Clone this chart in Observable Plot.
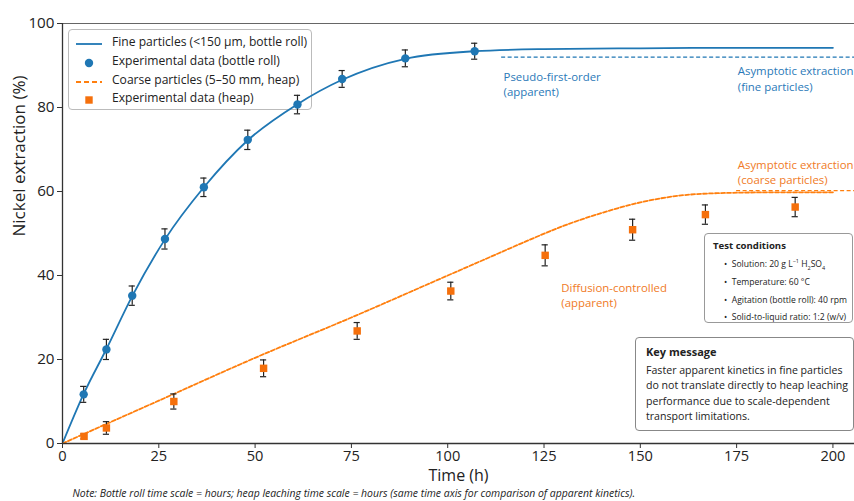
<!DOCTYPE html>
<html>
<head>
<meta charset="utf-8">
<script src="https://cdn.jsdelivr.net/npm/d3@7"></script>
<script src="https://cdn.jsdelivr.net/npm/@observablehq/plot@0.6"></script>
<style>
  html, body { margin: 0; padding: 0; background: #fff; }
  #wrap { position: relative; width: 854px; height: 501px; overflow: hidden; font-family: "Open Sans", "Noto Sans", sans-serif; color: #222; background: #fff; }
  #chart { position: absolute; left: 0; top: 0; z-index: 2; }
  .box { position: absolute; background: #fff; border: 1px solid #aaa; border-radius: 4px; box-sizing: border-box; }
  .legend-row { position: absolute; left: 6px; font-size: 12.1px; white-space: nowrap; line-height: 1; }
  .legend-row svg { position: absolute; left: 0; top: -6px; }
  .legend-row span { position: absolute; left: 37px; top: -8px; }
  .tc { font-size: 8.6px; line-height: 1; white-space: nowrap; }
  .km { font-size: 10.6px; white-space: nowrap; }
</style>
</head>
<body>
<div id="wrap">
  <div id="chart"></div>
</div>
<script>
// ---- data ----
const xTicks = [0, 25, 50, 75, 100, 125, 150, 175, 200];
const yTicks = [0, 20, 40, 60, 80, 100];

// Fine particles, bottle roll (experimental)
const fineTime = [5.5, 11.4, 18.1, 26.6, 36.7, 48.1, 61.0, 72.6, 89.0, 107.0];
const fineExt  = [11.7, 22.4, 35.2, 48.7, 61.0, 72.3, 80.7, 86.8, 91.7, 93.4];
const fineErr  = [1.9, 2.4, 2.3, 2.4, 2.2, 2.3, 2.2, 2.0, 2.0, 1.9];

// Coarse particles, heap (experimental)
const coarseTime = [5.6, 11.4, 28.9, 52.2, 76.5, 100.8, 125.3, 148.0, 166.9, 190.2];
const coarseExt  = [1.7, 3.7, 10.0, 17.9, 26.8, 36.3, 44.8, 50.9, 54.5, 56.3];
const coarseErr  = [0.6, 1.5, 1.8, 2.0, 2.0, 2.1, 2.5, 2.5, 2.3, 2.3];

// Fitted curves
const fineCurveTime = [0, 5.5, 11.4, 18.1, 26.6, 36.7, 48.1, 61, 72.6, 89, 107, 125, 150, 175, 200];
const fineCurveExt  = [0, 11.8, 22.5, 35.1, 48.6, 61.0, 72.2, 80.8, 86.6, 91.6, 93.4, 93.9, 94.1, 94.2, 94.2];
const coarseCurveTime = [0, 25, 50, 75, 100, 110, 120, 130, 140, 150, 160, 170, 185, 200];
const coarseCurveExt  = [0, 10.2, 20.4, 30.0, 40.0, 44.0, 48.0, 51.8, 54.9, 57.4, 59.0, 59.6, 59.8, 59.8];

// Asymptote reference lines
const asymFine = {from: 114, to: 206, value: 92.0};
const asymCoarse = {from: 175, to: 206, value: 60.2};

// Annotation labels
const annotations = [
  {t: 114.5, e: 85.7, text: "Pseudo-first-order\n(apparent)", color: "#2a79b8"},
  {t: 175.3, e: 87.0, text: "Asymptotic extraction\n(fine particles)", color: "#2a79b8"},
  {t: 175.3, e: 64.8, text: "Asymptotic extraction\n(coarse particles)", color: "#f07a26"},
  {t: 129.5, e: 35.5, text: "Diffusion-controlled\n(apparent)", color: "#f07a26"}
];

const BLUE = "#1f77b4";
const ORANGE = "#ff7f0e";
const ORANGE_MK = "#f5700c";

const fine = fineTime.map((t, i) => ({t, y: fineExt[i], e: fineErr[i]}));
const coarse = coarseTime.map((t, i) => ({t, y: coarseExt[i], e: coarseErr[i]}));
const fineCurve = fineCurveTime.map((t, i) => ({t, y: fineCurveExt[i]}));
const coarseCurve = coarseCurveTime.map((t, i) => ({t, y: coarseCurveExt[i]}));
const capHalf = 0.8;

const chart = Plot.plot({
  width: 854,
  height: 501,
  marginTop: 23,
  marginBottom: 58,
  marginLeft: 62,
  marginRight: 0,
  style: {fontFamily: "'Open Sans', 'Noto Sans', sans-serif", background: "transparent", overflow: "visible"},
  x: {domain: [0, 205.6]},
  y: {domain: [0, 100]},
  marks: [
    Plot.ruleY([asymFine], {y: "value", x1: "from", x2: "to", stroke: BLUE, strokeWidth: 1.1, strokeDasharray: "4,2.5"}),
    Plot.ruleY([asymCoarse], {y: "value", x1: "from", x2: "to", stroke: ORANGE, strokeWidth: 1.3, strokeDasharray: "4,2.5"}),
    Plot.line(fineCurve, {x: "t", y: "y", curve: "monotone-x", stroke: BLUE, strokeWidth: 1.8}),
    Plot.line(coarseCurve, {x: "t", y: "y", curve: "monotone-x", stroke: ORANGE, strokeWidth: 1.8, strokeDasharray: "4,2"}),
    // error bars
    Plot.ruleX(fine, {x: "t", y1: d => d.y - d.e, y2: d => d.y + d.e, stroke: "#222", strokeWidth: 1.2}),
    Plot.ruleY(fine, {y: d => d.y + d.e, x1: d => d.t - capHalf, x2: d => d.t + capHalf, stroke: "#222", strokeWidth: 1.2}),
    Plot.ruleY(fine, {y: d => d.y - d.e, x1: d => d.t - capHalf, x2: d => d.t + capHalf, stroke: "#222", strokeWidth: 1.2}),
    Plot.ruleX(coarse, {x: "t", y1: d => d.y - d.e, y2: d => d.y + d.e, stroke: "#222", strokeWidth: 1.2}),
    Plot.ruleY(coarse, {y: d => d.y + d.e, x1: d => d.t - capHalf, x2: d => d.t + capHalf, stroke: "#222", strokeWidth: 1.2}),
    Plot.ruleY(coarse, {y: d => d.y - d.e, x1: d => d.t - capHalf, x2: d => d.t + capHalf, stroke: "#222", strokeWidth: 1.2}),
    Plot.dot(fine, {x: "t", y: "y", r: 4.2, fill: BLUE, stroke: "none"}),
    Plot.dot(coarse, {x: "t", y: "y", r: 4.2, symbol: "square", fill: ORANGE_MK, stroke: "none"}),
    // annotations
    Plot.text(annotations, {x: "t", y: "e", text: "text", fill: "color", textAnchor: "start", lineAnchor: "middle", fontSize: 11.4, lineHeight: 1.38}),
    // frame
    Plot.ruleY([100], {stroke: "#666", strokeWidth: 1.2}),
    Plot.ruleX([0], {stroke: "#333", strokeWidth: 1.3}),
    Plot.ruleY([0], {stroke: "#333", strokeWidth: 1.3}),
    Plot.axisX({ticks: xTicks, tickSize: 5, tickPadding: 2, fontSize: 14.6, label: null, stroke: "#333", color: "#222"}),
    Plot.axisY({ticks: yTicks, tickSize: 5, tickPadding: 3, fontSize: 15.2, label: null, stroke: "#333", color: "#222"}),
    Plot.text(["Time (h)"], {frameAnchor: "bottom", dy: 37, fontSize: 16, fill: "#222"}),
    Plot.text(["Nickel extraction (%)"], {frameAnchor: "left", rotate: -90, dx: -43, dy: 3, fontSize: 17, fill: "#222"}),
    Plot.text(["Note: Bottle roll time scale = hours; heap leaching time scale = hours (same time axis for comparison of apparent kinetics)."],
      {frameAnchor: "bottom-left", textAnchor: "start", dx: 10, dy: 53, fontSize: 10.45, fontStyle: "italic", fill: "#222"})
  ]
});
document.getElementById("chart").appendChild(chart);

// ---- legend and text boxes ----
const wrap = document.getElementById("wrap");
function box(left, top, w, h, html, extra) {
  const d = document.createElement("div");
  d.className = "box";
  d.style.left = left + "px"; d.style.top = top + "px";
  d.style.width = w + "px"; d.style.height = h + "px";
  if (extra) Object.assign(d.style, extra);
  d.innerHTML = html;
  wrap.appendChild(d);
  return d;
}
const legendItems = [
  {label: "Fine particles (<150 µm, bottle roll)", kind: "line", color: BLUE},
  {label: "Experimental data (bottle roll)", kind: "dot", color: BLUE},
  {label: "Coarse particles (5–50 mm, heap)", kind: "dash", color: ORANGE},
  {label: "Experimental data (heap)", kind: "square", color: ORANGE_MK}
];
const rowY = [14, 33, 52, 70];
let lg = "";
legendItems.forEach((it, i) => {
  let sym = "";
  if (it.kind === "line") sym = `<line x1="1" y1="6" x2="27" y2="6" stroke="${it.color}" stroke-width="1.8"/>`;
  if (it.kind === "dash") sym = `<line x1="1" y1="6" x2="27" y2="6" stroke="${it.color}" stroke-width="1.8" stroke-dasharray="5,3"/>`;
  if (it.kind === "dot") sym = `<circle cx="14" cy="6" r="4.2" fill="${it.color}"/>`;
  if (it.kind === "square") sym = `<rect x="10.3" y="2.3" width="7.4" height="7.4" fill="${it.color}"/>`;
  lg += `<div class="legend-row" style="top:${rowY[i]}px"><svg width="30" height="12">${sym}</svg><span>${it.label.replace("<","&lt;")}</span></div>`;
});
// legend sits below the chart layer so the curve shows over it
box(68, 29, 244, 81, lg, {border: "1px solid #bbb", zIndex: 1});

box(704, 233, 149, 90,
  `<div class="tc" style="position:absolute;left:8px;top:7px;font-weight:700;font-size:9.6px">Test conditions</div>
   <div class="tc" style="position:absolute;left:19px;top:25px">•&nbsp; Solution: 20 g L<sup style="font-size:5.5px">−1</sup> H<sub style="font-size:5.5px">2</sub>SO<sub style="font-size:5.5px">4</sub></div>
   <div class="tc" style="position:absolute;left:19px;top:44px">•&nbsp; Temperature: 60 °C</div>
   <div class="tc" style="position:absolute;left:19px;top:62px">•&nbsp; Agitation (bottle roll): 40 rpm</div>
   <div class="tc" style="position:absolute;left:19px;top:79px">•&nbsp; Solid-to-liquid ratio: 1:2 (w/v)</div>`,
  {border: "1px solid #999", zIndex: 3});

box(635, 337, 219, 94,
  `<div class="km" style="position:absolute;left:10px;top:6px;font-weight:700;font-size:11px">Key message</div>
   <div class="km" style="position:absolute;left:10px;top:25px;line-height:15.4px">Faster apparent kinetics in fine particles<br>do not translate directly to heap leaching<br>performance due to scale-dependent<br>transport limitations.</div>`,
  {border: "1px solid #888", zIndex: 3});
</script>
</body>
</html>
